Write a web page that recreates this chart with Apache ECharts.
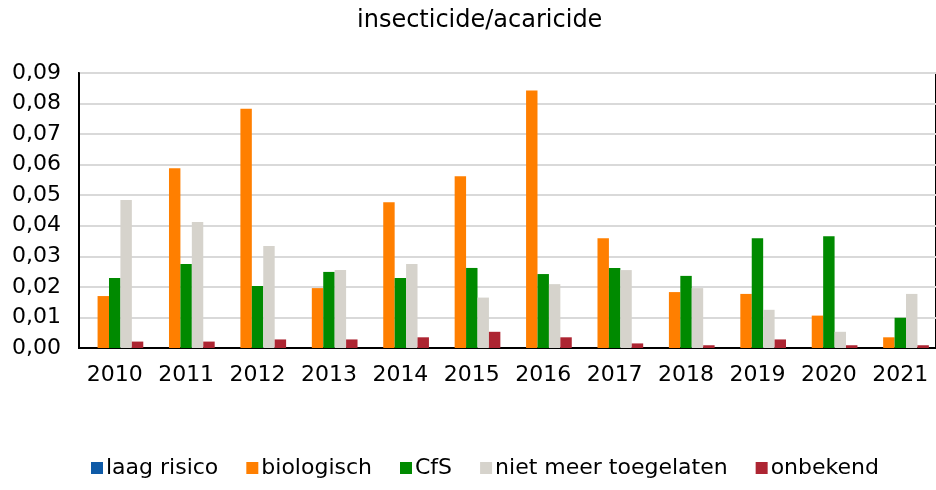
<!DOCTYPE html>
<html>
<head>
<meta charset="utf-8">
<script src="https://cdn.jsdelivr.net/npm/echarts@6/dist/echarts.min.js"></script>
<style>
  html, body { margin: 0; padding: 0; background: #fff; }
  #chart { width: 936px; height: 490px; }
</style>
</head>
<body>
<div id="chart"></div>
<script>
var years = ["2010", "2011", "2012", "2013", "2014", "2015", "2016", "2017", "2018", "2019", "2020", "2021"];
var laagRisico = [0, 0, 0, 0, 0, 0, 0, 0, 0, 0, 0, 0];
var biologisch = [0.0170, 0.0588, 0.0783, 0.0196, 0.0477, 0.0562, 0.0843, 0.0359, 0.0183, 0.0177, 0.0106, 0.0035];
var cfs = [0.0229, 0.0275, 0.0203, 0.0249, 0.0229, 0.0262, 0.0242, 0.0262, 0.0236, 0.0359, 0.0366, 0.0099];
var nietMeer = [0.0484, 0.0412, 0.0334, 0.0255, 0.0275, 0.0165, 0.0209, 0.0255, 0.0196, 0.0125, 0.0053, 0.0177];
var onbekend = [0.0021, 0.0021, 0.0028, 0.0028, 0.0035, 0.0053, 0.0035, 0.0015, 0.0009, 0.0028, 0.0009, 0.0009];

var font = "DejaVu Sans";
var myChart = echarts.init(document.getElementById("chart"));

function bar(name, data, color) {
  return {
    name: name,
    type: "bar",
    data: data,
    barGap: 0,
    barCategoryGap: "20%",
    itemStyle: { color: color },
    animation: false
  };
}

var option = {
  textStyle: { fontFamily: font },
  title: {
    text: "insecticide/acaricide",
    left: 352,
    top: 4,
    textStyle: { fontFamily: font, fontSize: 24, fontWeight: "normal", color: "#000" }
  },
  legend: {
    bottom: 6,
    left: 86,
    icon: "rect",
    itemWidth: 12,
    itemHeight: 12,
    itemGap: 28,
    textStyle: { fontFamily: font, fontSize: 22, color: "#000", padding: [0, 0, 0, -2] },
    data: ["laag risico", "biologisch", "CfS", "niet meer toegelaten", "onbekend"]
  },
  grid: {
    left: 79,
    right: -1,
    top: 73,
    bottom: 142,
    show: true,
    borderColor: "#000",
    borderWidth: 2,
    containLabel: false
  },
  xAxis: {
    type: "category",
    data: years,
    axisLine: { show: true, lineStyle: { color: "#000", width: 2 } },
    axisTick: { show: false },
    axisLabel: { fontFamily: font, fontSize: 22, color: "#000", margin: 16, interval: 0 }
  },
  yAxis: {
    type: "value",
    min: 0,
    max: 0.09,
    interval: 0.01,
    axisLine: { show: true, lineStyle: { color: "#000", width: 2 } },
    axisTick: { show: false },
    splitLine: { lineStyle: { color: "#d9d9d9", width: 2 } },
    axisLabel: {
      fontFamily: font,
      fontSize: 22,
      color: "#000",
      margin: 18,
      formatter: function (v) { return v.toFixed(2).replace(".", ","); }
    }
  },
  series: [
    bar("laag risico", laagRisico, "#0e5aa7"),
    bar("biologisch", biologisch, "#ff7f00"),
    bar("CfS", cfs, "#008a00"),
    bar("niet meer toegelaten", nietMeer, "#d6d3cc"),
    bar("onbekend", onbekend, "#ad2532")
  ]
};

myChart.setOption(option);
</script>
</body>
</html>
